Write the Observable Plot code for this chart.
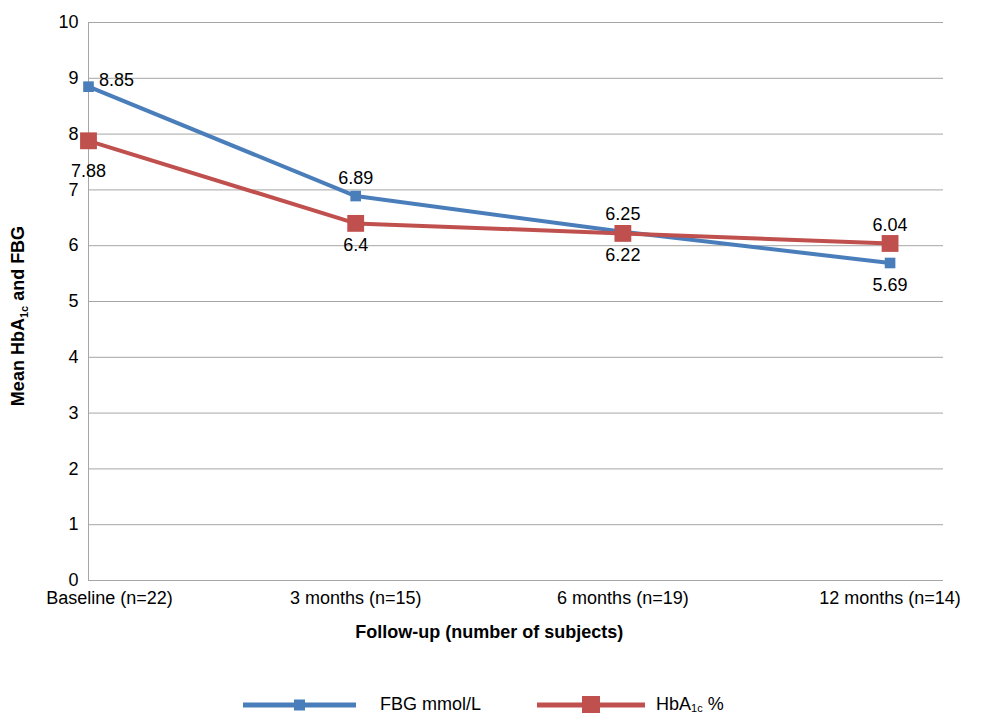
<!DOCTYPE html>
<html><head><meta charset="utf-8">
<script src="https://cdn.jsdelivr.net/npm/d3@7"></script>
<script src="https://cdn.jsdelivr.net/npm/@observablehq/plot@0.6"></script>
<style>
body{margin:0;background:#fff;font-family:"Liberation Sans",Arial,sans-serif;}
#legend{position:relative;height:63px;}
</style></head><body>
<div id="chart"></div>
<div id="legend"></div>
<script>
const categories = ["Baseline (n=22)", "3 months (n=15)", "6 months (n=19)", "12 months (n=14)"];
const fbg = [8.85, 6.89, 6.25, 5.69];
const hba1c = [7.88, 6.4, 6.22, 6.04];
const fbgLabelAbove = [true, true, true, false];
const hbaLabelAbove = [false, false, false, true];
const yTicks = [0,1,2,3,4,5,6,7,8,9,10];

const blue = "#4a7ebb", red = "#c0504d";
const rows = [];
categories.forEach((c, i) => {
  rows.push({i, v: fbg[i], s: "FBG", above: fbgLabelAbove[i]});
  rows.push({i, v: hba1c[i], s: "HbA", above: hbaLabelAbove[i]});
});
const F = rows.filter(d => d.s === "FBG"), H = rows.filter(d => d.s === "HbA");
const fs = 18;

const plot = Plot.plot({
  width: 999, height: 650,
  marginLeft: 88, marginRight: 56, marginTop: 22, marginBottom: 70,
  style: {fontFamily: "'Liberation Sans', Arial, sans-serif", fontSize: fs + "px", color: "#000"},
  x: {domain: [0, 3.2], axis: null},
  y: {domain: [0, 10], axis: null},
  marks: [
    Plot.gridY(yTicks, {stroke: "#a6a6a6", strokeOpacity: 1}),
    Plot.axisY(yTicks, {tickSize: 0, tickPadding: 10, fontSize: fs, label: null, tickFormat: d3.format("d")}),
    Plot.ruleX([0], {stroke: "#a6a6a6"}),
    Plot.ruleY([0], {stroke: "#a6a6a6"}),
    Plot.axisX([1, 2, 3], {tickSize: 0, tickPadding: 11, fontSize: fs, label: null, tickFormat: i => categories[i]}),
    Plot.axisX([0], {tickSize: 0, tickPadding: 11, fontSize: fs, label: null, dx: 21, tickFormat: i => categories[i]}),
    Plot.line(F, {x: "i", y: "v", stroke: blue, strokeWidth: 4}),
    Plot.line(H, {x: "i", y: "v", stroke: red, strokeWidth: 4}),
    Plot.dot(F, {x: "i", y: "v", symbol: "square", r: 6, fill: blue}),
    Plot.dot(H, {x: "i", y: "v", symbol: "square", r: 9.5, fill: red}),
    Plot.text(rows.filter(d => d.above && d.i === 0), {x: "i", y: "v", text: d => String(d.v), dy: -6, dx: 28, fontSize: fs, fill: "#000"}),
    Plot.text(rows.filter(d => d.above && d.i > 0), {x: "i", y: "v", text: d => String(d.v), dy: -18, fontSize: fs, fill: "#000"}),
    Plot.text(rows.filter(d => !d.above && d.i === 0), {x: "i", y: "v", text: d => String(d.v), dy: 30, fontSize: fs, fill: "#000"}),
    Plot.text(rows.filter(d => !d.above && d.i > 0), {x: "i", y: "v", text: d => String(d.v), dy: 22, fontSize: fs, fill: "#000"}),
    Plot.text([0], {x: 1.5, y: 0, text: () => "Follow-up (number of subjects)", dy: 52, fontWeight: "bold", fontSize: fs, fill: "#000"})
  ]
});
document.getElementById("chart").appendChild(plot);

// y-axis title with subscript
const svg = d3.select(plot);
const t = svg.append("text")
  .attr("transform", "translate(24,316) rotate(-90)")
  .attr("text-anchor", "middle")
  .attr("font-weight", "bold").attr("font-size", fs);
t.append("tspan").text("Mean HbA");
t.append("tspan").attr("font-size", 11).attr("dy", 4).text("1c");
t.append("tspan").attr("dy", -4).text(" and FBG");

// legend
const lg = d3.select("#legend").append("svg").attr("width", 999).attr("height", 63);
function item(x0, x1, color, size, tx, parts) {
  lg.append("line").attr("x1", x0).attr("x2", x1).attr("y1", 55).attr("y2", 55).attr("stroke", color).attr("stroke-width", 5);
  lg.append("rect").attr("x", (x0 + x1) / 2 - size / 2).attr("y", 55 - size / 2).attr("width", size).attr("height", size).attr("fill", color);
  const tt = lg.append("text").attr("x", tx).attr("y", 60).attr("font-size", fs);
  parts.forEach(p => tt.append("tspan").attr("font-size", p.s || fs).attr("dy", p.dy || 0).text(p.t));
}
item(243, 356, blue, 11, 380, [{t: "FBG mmol/L"}]);
item(537, 645, red, 18, 656, [{t: "HbA"}, {t: "1c", s: 11, dy: 2}, {t: " %", dy: -2}]);
</script></body></html>
